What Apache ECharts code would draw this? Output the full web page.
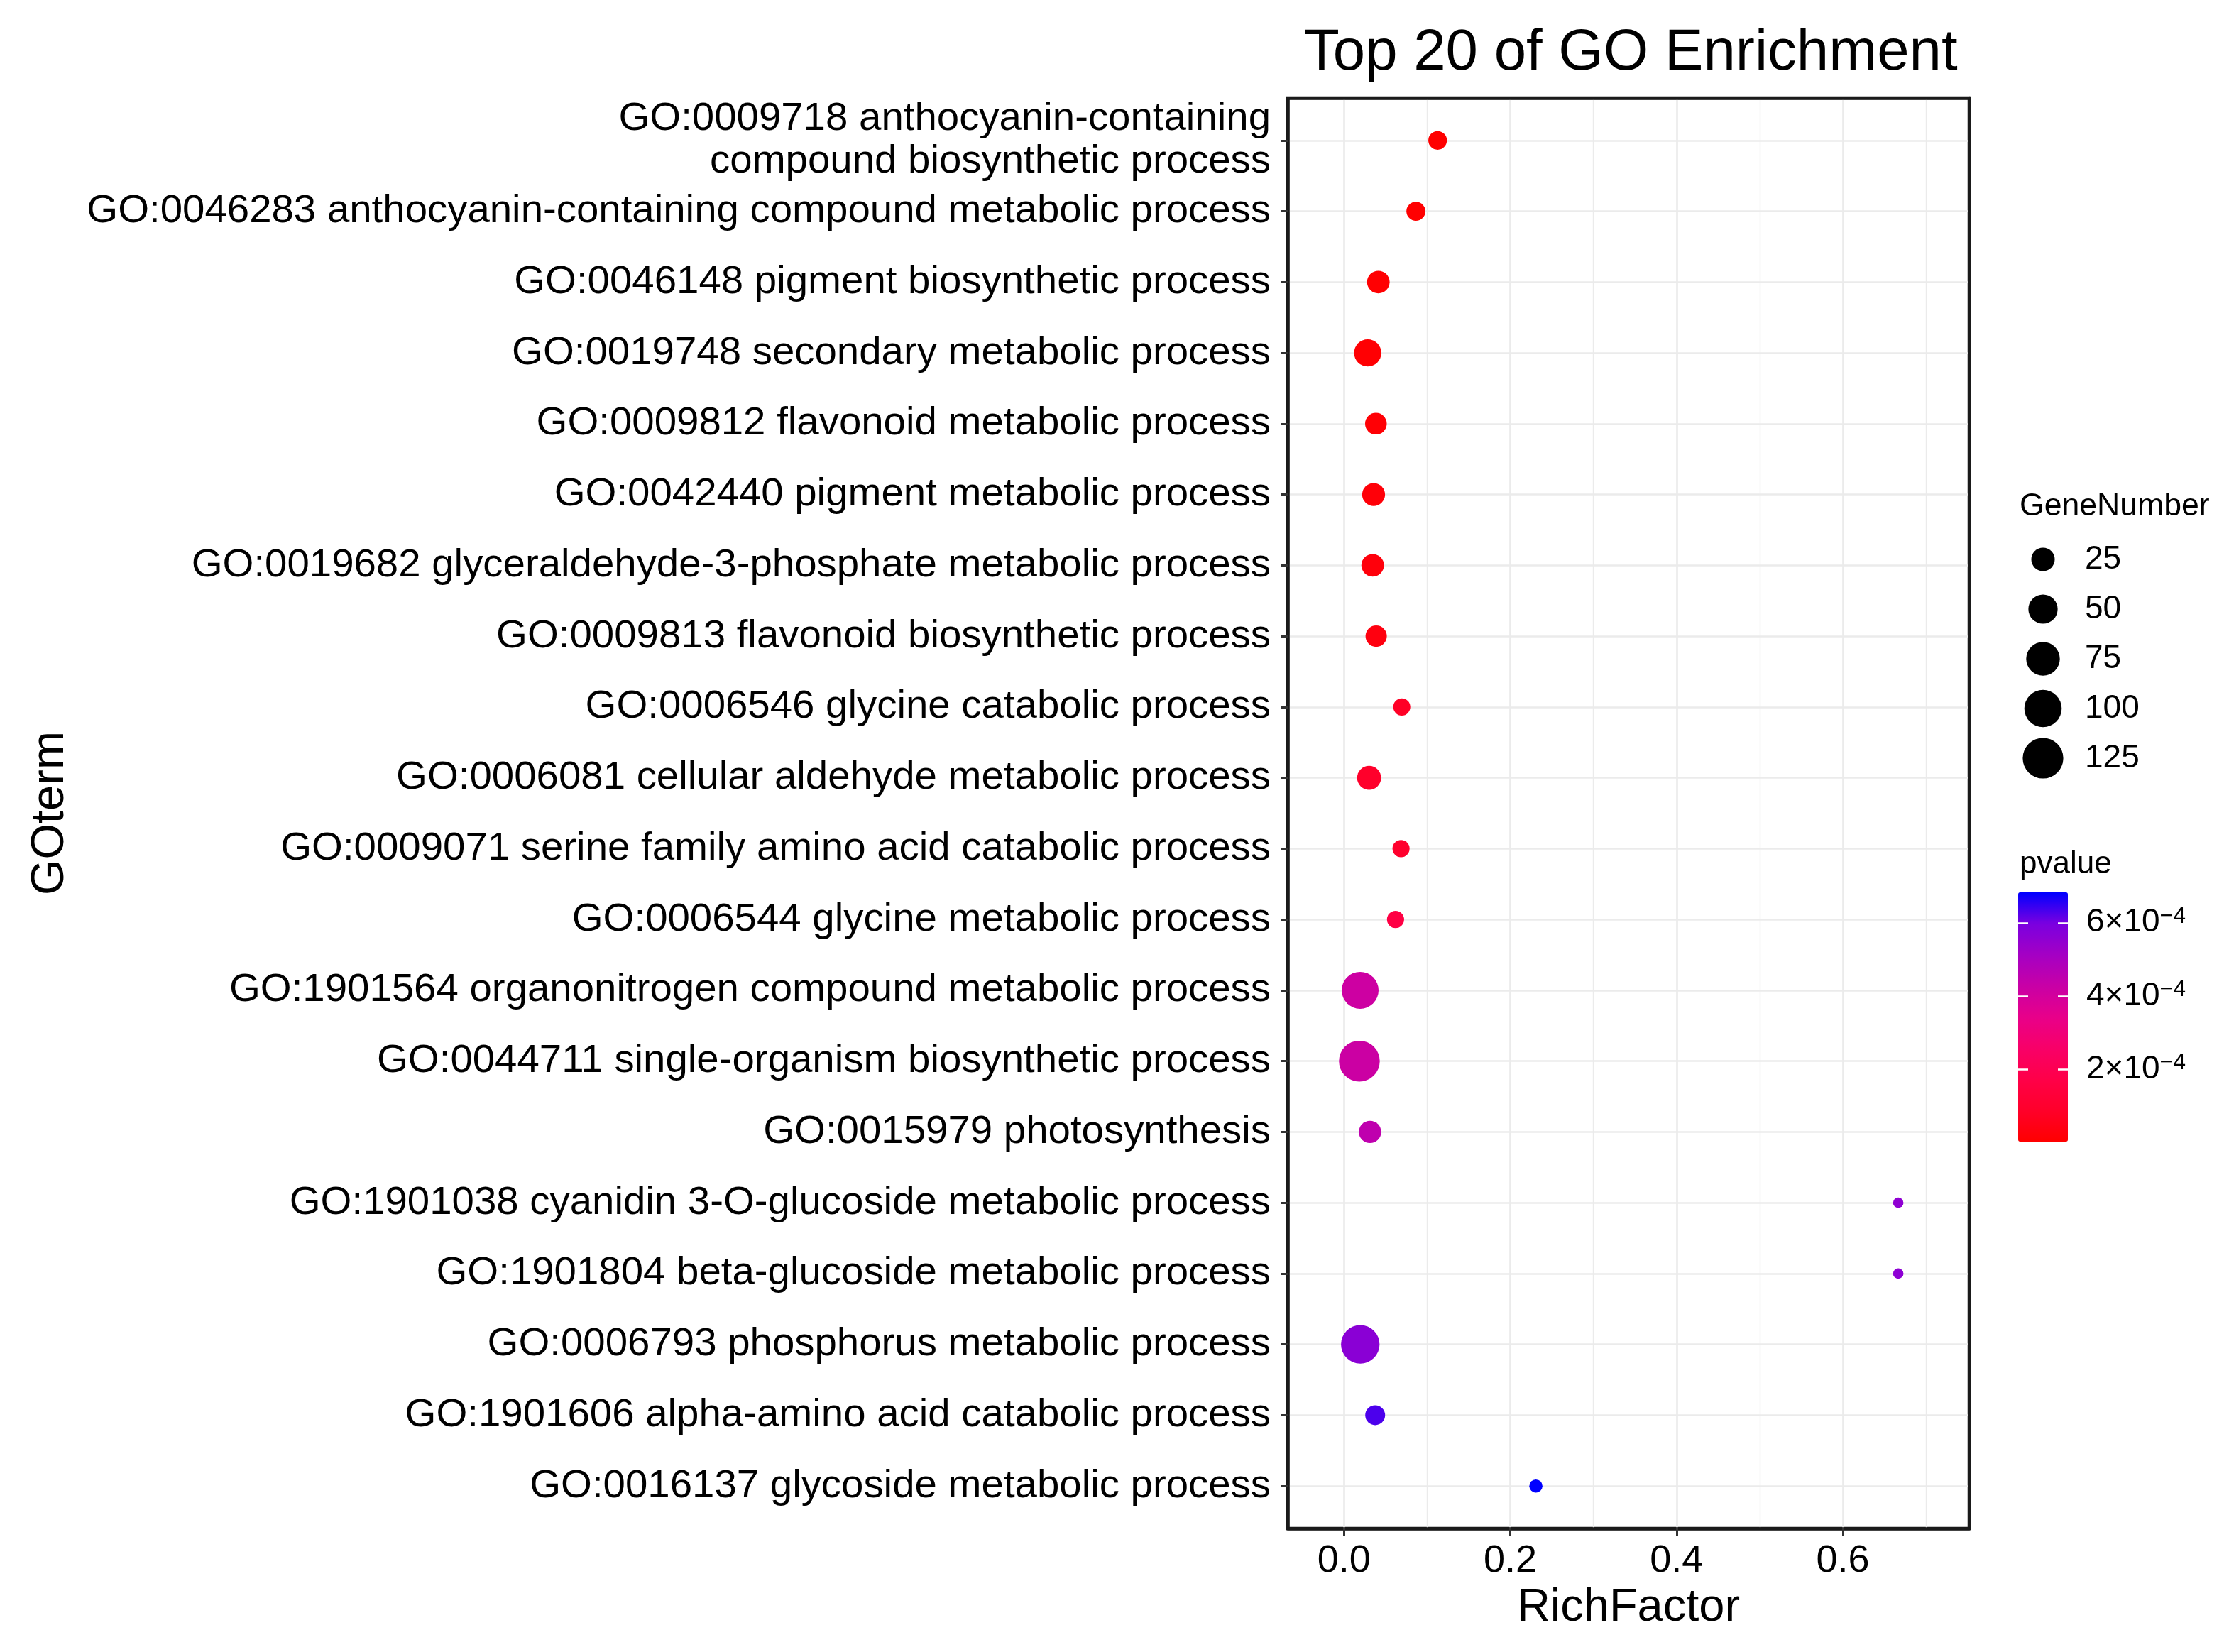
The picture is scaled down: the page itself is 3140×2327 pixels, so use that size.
<!DOCTYPE html>
<html>
<head>
<meta charset="utf-8">
<script src="https://cdn.jsdelivr.net/npm/echarts@6/dist/echarts.min.js"></script>
<style>
html,body{margin:0;padding:0;background:#fff;}
#chart{width:3140px;height:2327px;}
</style>
</head>
<body>
<div id="chart"></div>
<script>
// ---------------- data ----------------
const categories = [
  'GO:0009718 anthocyanin-containing\ncompound biosynthetic process',
  'GO:0046283 anthocyanin-containing compound metabolic process',
  'GO:0046148 pigment biosynthetic process',
  'GO:0019748 secondary metabolic process',
  'GO:0009812 flavonoid metabolic process',
  'GO:0042440 pigment metabolic process',
  'GO:0019682 glyceraldehyde-3-phosphate metabolic process',
  'GO:0009813 flavonoid biosynthetic process',
  'GO:0006546 glycine catabolic process',
  'GO:0006081 cellular aldehyde metabolic process',
  'GO:0009071 serine family amino acid catabolic process',
  'GO:0006544 glycine metabolic process',
  'GO:1901564 organonitrogen compound metabolic process',
  'GO:0044711 single-organism biosynthetic process',
  'GO:0015979 photosynthesis',
  'GO:1901038 cyanidin 3-O-glucoside metabolic process',
  'GO:1901804 beta-glucoside metabolic process',
  'GO:0006793 phosphorus metabolic process',
  'GO:1901606 alpha-amino acid catabolic process',
  'GO:0016137 glycoside metabolic process'
];
const richFactor = [0.1126, 0.0865, 0.0413, 0.0285, 0.0384, 0.0356, 0.0345, 0.0387, 0.0695, 0.0302,
                    0.0686, 0.0620, 0.0194, 0.0185, 0.0313, 0.6667, 0.6667, 0.0196, 0.0375, 0.2308];
const geneNumber = [11, 12, 22, 40, 19, 23, 22, 18, 8, 27,
                    8, 8, 97, 127, 21, 2, 2, 109, 14, 3];
const pvalue = [2e-6, 4e-6, 6e-6, 9e-6, 1.3e-5, 1.8e-5, 2.5e-5, 3.2e-5, 8.0e-5, 9.0e-5,
                9.5e-5, 1.6e-4, 4.15e-4, 4.2e-4, 4.5e-4, 5.55e-4, 5.6e-4, 5.65e-4, 6.3e-4, 6.83e-4];
const xMajorTicks = [0, 0.2, 0.4, 0.6];
const xMinorTicks = [0.1, 0.3, 0.5, 0.7];
const sizeLegendValues = [25, 50, 75, 100, 125];
const pTicks = [2e-4, 4e-4, 6e-4];

// ---------------- styling / scales ----------------
const FF = '"Liberation Sans", Arial, Helvetica, sans-serif';
const xMin = -0.0677, xMax = 0.752;
const nMin = Math.min(...geneNumber), nMax = Math.max(...geneNumber);
const pMin = Math.min(...pvalue), pMax = Math.max(...pvalue);
function sizeOf(n) {
  const t = Math.max(0, (n - nMin) / (nMax - nMin));
  return 14.7 + 42.8 * Math.sqrt(t);
}
const gradient = ['#FF0000', '#FF002A', '#FF0048', '#F80068', '#E8008A', '#C800A6', '#A400C4', '#7A00E0', '#0000FF'];
const rowIdx = categories.map((c, i) => i);
const points = categories.map((c, i) => [richFactor[i], i, geneNumber[i], pvalue[i]]);

const gridLineColor = '#EBEBEB';
const markData = []
  .concat(xMajorTicks.map(v => ({ xAxis: v, lineStyle: { color: gridLineColor, width: 2.7, type: 'solid' } })))
  .concat(xMinorTicks.map(v => ({ xAxis: v, lineStyle: { color: gridLineColor, width: 1.4, type: 'solid' } })))
  .concat(rowIdx.map(i => ({ yAxis: i, lineStyle: { color: gridLineColor, width: 2.7, type: 'solid' } })));

function sciLabel(v) {
  const e = Math.floor(Math.log10(v) + 1e-9);
  const m = Math.round(v / Math.pow(10, e));
  return '{a|' + m + '×10}{b|−' + Math.abs(e) + '}';
}

const borderLine = { show: true, onZero: false, lineStyle: { color: '#1a1a1a', width: 4.5 } };

const option = {
  backgroundColor: '#fff',
  animation: false,
  textStyle: { fontFamily: FF },
  title: [
    { text: 'Top 20 of GO Enrichment', left: 1837, top: 34, padding: 0,
      textStyle: { fontSize: 81.6, fontWeight: 'normal', color: '#000', fontFamily: FF } },
    { text: 'GeneNumber', left: 2845, top: 691, padding: 0,
      textStyle: { fontSize: 44.6, fontWeight: 'normal', color: '#000', fontFamily: FF } },
    { text: 'pvalue', left: 2845, top: 1196, padding: 0,
      textStyle: { fontSize: 44, fontWeight: 'normal', color: '#000', fontFamily: FF } }
  ],
  grid: [
    { left: 1814, top: 138, width: 960, height: 2015, show: true, borderColor: '#1a1a1a', borderWidth: 4.5, backgroundColor: '#fff' },
    { left: 2858, top: 753, width: 40, height: 350 },
    { left: 2843, top: 1257, width: 70, height: 351 }
  ],
  xAxis: [
    { gridIndex: 0, type: 'value', min: xMin, max: xMax, position: 'bottom', z: 10,
      axisLine: borderLine,
      axisTick: { show: true, customValues: xMajorTicks, length: 10, lineStyle: { color: '#333', width: 3 } },
      axisLabel: { customValues: xMajorTicks, formatter: v => Number(v).toFixed(1), fontSize: 54, color: '#000', margin: 19, fontFamily: FF },
      splitLine: { show: false },
      name: 'RichFactor', nameLocation: 'middle', nameGap: 80,
      nameTextStyle: { fontSize: 65, color: '#000', fontFamily: FF } },
    { gridIndex: 0, type: 'value', min: xMin, max: xMax, position: 'top', z: 10,
      axisLine: borderLine, axisTick: { show: false }, axisLabel: { show: false }, splitLine: { show: false } },
    { gridIndex: 1, type: 'value', min: -1, max: 1, show: false },
    { gridIndex: 2, type: 'value', min: 0, max: 1, show: false }
  ],
  yAxis: [
    { gridIndex: 0, type: 'value', inverse: true, min: -0.6, max: categories.length - 0.4, position: 'left', z: 10,
      axisLine: borderLine,
      axisTick: { show: true, customValues: rowIdx, length: 10, lineStyle: { color: '#333', width: 3 } },
      axisLabel: { customValues: rowIdx, formatter: v => categories[Math.round(v)], fontSize: 56.4, lineHeight: 60,
                   showMinLabel: true, showMaxLabel: true, hideOverlap: false,
                   color: '#000', margin: 24, fontFamily: FF },
      splitLine: { show: false },
      name: 'GOterm', nameLocation: 'middle', nameRotate: 90, nameGap: 1710,
      nameTextStyle: { fontSize: 65, color: '#000', fontFamily: FF } },
    { gridIndex: 0, type: 'value', inverse: true, min: -0.6, max: categories.length - 0.4, position: 'right', z: 10,
      axisLine: borderLine, axisTick: { show: false }, axisLabel: { show: false }, splitLine: { show: false } },
    { gridIndex: 1, type: 'category', data: sizeLegendValues.map(String), inverse: true, position: 'right',
      axisLine: { show: false }, axisTick: { show: false }, splitLine: { show: false },
      axisLabel: { fontSize: 46, color: '#000', margin: 39, fontFamily: FF } },
    { gridIndex: 2, type: 'value', min: pMin, max: pMax, position: 'left', z: 10,
      axisLine: { show: false },
      axisTick: { show: true, inside: true, customValues: pTicks, length: 14, lineStyle: { color: '#fff', width: 2.5 } },
      axisLabel: { show: false }, splitLine: { show: false } },
    { gridIndex: 2, type: 'value', min: pMin, max: pMax, position: 'right', z: 10,
      axisLine: { show: false },
      axisTick: { show: true, inside: true, customValues: pTicks, length: 14, lineStyle: { color: '#fff', width: 2.5 } },
      axisLabel: { customValues: pTicks, formatter: sciLabel, margin: 26,
        rich: {
          a: { fontSize: 46, lineHeight: 50, color: '#000', fontFamily: FF },
          b: { fontSize: 32, lineHeight: 42, verticalAlign: 'top', color: '#000', fontFamily: FF }
        } },
      splitLine: { show: false } }
  ],
  visualMap: [{
    type: 'continuous', seriesIndex: 0, dimension: 3, min: pMin, max: pMax,
    left: 2843, top: 1257, itemWidth: 70, itemHeight: 351, padding: 0,
    calculable: false, hoverLink: false, orient: 'vertical',
    inRange: { color: gradient }
  }],
  series: [
    { type: 'scatter', xAxisIndex: 0, yAxisIndex: 0, z: 3, data: points,
      symbol: 'circle', symbolSize: v => sizeOf(v[2]),
      itemStyle: { opacity: 1 },
      markLine: { silent: true, z: 1, animation: false, symbol: ['none', 'none'], label: { show: false },
                  emphasis: { disabled: true }, data: markData } },
    { type: 'scatter', xAxisIndex: 2, yAxisIndex: 2, z: 3, symbol: 'circle',
      data: sizeLegendValues.map((v, i) => ({ value: [0, i], symbolSize: sizeOf(v) })),
      itemStyle: { color: '#000', opacity: 1 } }
  ]
};

const chart = echarts.init(document.getElementById('chart'), null, { renderer: 'canvas' });
chart.setOption(option);
</script>
</body>
</html>
